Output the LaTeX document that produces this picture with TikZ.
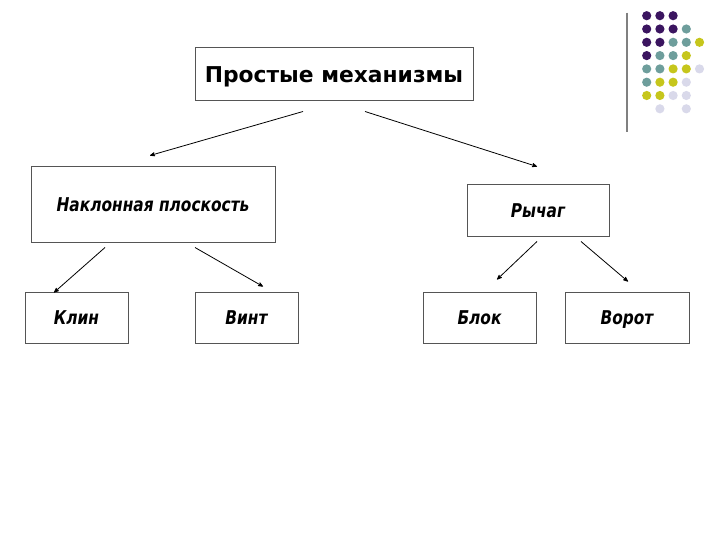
\documentclass[tikz,border=0pt]{standalone}
\usepackage{fontspec}
\setmainfont{DejaVu Sans}
\newfontfamily\boxfont{DejaVu Sans Condensed}[FakeStretch=0.9]
\usetikzlibrary{arrows}
\definecolor{dotpurple}{HTML}{3B1560}
\definecolor{dotteal}{HTML}{6E9E9C}
\definecolor{dotyellow}{HTML}{C6C61C}
\definecolor{dotlilac}{HTML}{D9D9EA}
\definecolor{boxgray}{HTML}{555555}
\tikzset{
	box/.style={draw=boxgray, line width=1pt, inner sep=0pt, minimum height=51pt, text depth=0pt},
	itbox/.style={box, text height=13.6pt, font=\boxfont\bfseries\itshape\fontsize{19}{22}\selectfont},
}

\begin{document}
\begin{tikzpicture}[x=1pt, y=-1pt]
			\useasboundingbox (0,0) rectangle (720,540);
			% decoration in the corner
			\draw[gray, line width=2pt] (626.7,12.7) -- (626.7,131.7);
			\foreach \c/\r/\col in {0/0/dotpurple,1/0/dotpurple,2/0/dotpurple,
				0/1/dotpurple,1/1/dotpurple,2/1/dotpurple,3/1/dotteal,
				0/2/dotpurple,1/2/dotpurple,2/2/dotteal,3/2/dotteal,4/2/dotyellow,
				0/3/dotpurple,1/3/dotteal,2/3/dotteal,3/3/dotyellow,
				0/4/dotteal,1/4/dotteal,2/4/dotyellow,3/4/dotyellow,4/4/dotlilac,
				0/5/dotteal,1/5/dotyellow,2/5/dotyellow,3/5/dotlilac,
				0/6/dotyellow,1/6/dotyellow,2/6/dotlilac,3/6/dotlilac,
				1/7/dotlilac,3/7/dotlilac}
				\fill[\col] (646.7+13.2*\c, 15.7+13.3*\r) circle (4.6);
			% boxes
			\node[box, minimum width=278pt, minimum height=53pt, text height=15.9pt,
				font=\bfseries\fontsize{21.8}{26}\selectfont]
				(title) at (334,74.5) {Простые механизмы};
			\node[itbox, minimum width=244pt, minimum height=75pt] (incline) at (153,204.5) {Наклонная плоскость};
			\node[itbox, minimum width=142pt] (lever) at (538,210.5) {Рычаг};
			\node[itbox, minimum width=103pt] (wedge) at (76.5,317.5) {Клин};
			\node[itbox, minimum width=103pt] (screw) at (246.5,317.5) {Винт};
			\node[itbox, minimum width=113pt] (pulley) at (479.5,317.5) {Блок};
			\node[itbox, minimum width=124pt] (winch) at (627,317.5) {Ворот};
			% arrows
			\path[->, >=stealth', line width=0.8pt]
			([xshift=-31pt, yshift=-10pt]title.south) edge ([xshift=-3pt, yshift=11pt]incline.north)
			([xshift=31pt, yshift=-10pt]title.south) edge ([xshift=-1pt, yshift=18pt]lever.north)
			([xshift=-48pt, yshift=-5pt]incline.south) edge ([xshift=-22.5pt, yshift=-1pt]wedge.north)
			([xshift=42pt, yshift=-5pt]incline.south) edge ([xshift=16.5pt, yshift=5pt]screw.north)
			([xshift=-1pt, yshift=-5pt]lever.south) edge ([xshift=17.5pt, yshift=12pt]pulley.north)
			([xshift=43pt, yshift=-5pt]lever.south) edge ([xshift=1pt, yshift=10pt]winch.north);
		\end{tikzpicture}
\end{document}
